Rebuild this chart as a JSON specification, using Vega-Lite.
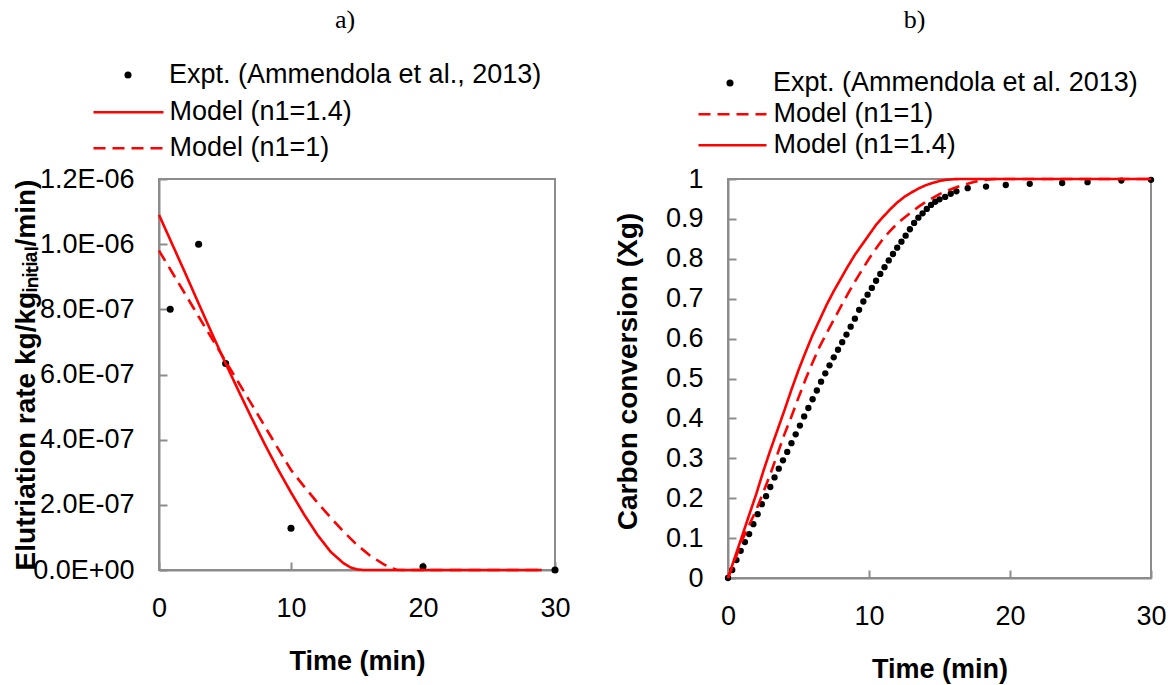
{
  "$schema": "https://vega.github.io/schema/vega-lite/v6.json",
  "padding": {"left": 11, "top": 5, "right": 5, "bottom": 2},
  "spacing": 41,
  "resolve": {"scale": {"shape": "independent", "strokeDash": "independent"}, "legend": {"shape": "independent", "strokeDash": "independent"}},
  "config": {
    "font": "Liberation Sans",
    "view": {"stroke": "#8c8c8c", "strokeWidth": 2},
    "axis": {
      "grid": false,
      "labelFont": "Liberation Sans",
      "labelFontSize": 27,
      "labelColor": "black",
      "titleFont": "Liberation Sans",
      "titleFontSize": 27,
      "titleFontWeight": "bold",
      "titleColor": "black",
      "domainColor": "#8c8c8c",
      "domainWidth": 2,
      "tickColor": "#8c8c8c",
      "tickWidth": 2,
      "tickSize": -8,
      "labelPadding": 33,
      "labelOverlap": false,
      "labelSeparation": 0,
      "labelBound": false,
      "labelFlush": false
    },
    "axisY": {"titleFontSize": 28},
    "legend": {
      "labelFont": "Liberation Sans",
      "labelFontSize": 27,
      "labelColor": "black",
      "labelLimit": 1000,
      "padding": 0,
      "offset": 0,
      "title": null
    },
    "title": {"font": "Liberation Serif", "fontSize": 26, "fontWeight": "normal", "color": "black"}
  },
  "hconcat": [
    {
      "title": {"text": "a)", "anchor": "middle", "dx": -12, "offset": 29},
      "width": 396,
      "height": 391,
      "layer": [
        {
          "data": {"values": [
            {"t": 0.85, "v": 8.0e-7},
            {"t": 3, "v": 1.0e-6},
            {"t": 5.05, "v": 6.34e-7},
            {"t": 10, "v": 1.28e-7},
            {"t": 20, "v": 1.0e-8},
            {"t": 30, "v": 0}
          ]},
          "mark": {"type": "point", "filled": true, "size": 50, "color": "black", "opacity": 1},
          "encoding": {
            "x": {"field": "t", "type": "quantitative", "scale": {"domain": [0, 30]},
                  "axis": {"values": [0, 10, 20, 30], "tickCount": 20, "title": "Time (min)", "titlePadding": 27}},
            "y": {"field": "v", "type": "quantitative", "scale": {"domain": [0, 1.2e-6]},
                  "axis": {"values": [0, 2e-7, 4e-7, 6e-7, 8e-7, 1e-6, 1.2e-6], "tickCount": 20, "labelOverlap": false,
                           "labelExpr": "replace(replace(format(datum.value, '.1e'), 'e-', 'E-0'), 'e+', 'E+0')",
                           "title": "Elutriation rate kg/kgᵢₙᵢₜᵢₐₗ/min)", "titlePadding": -8}},
            "shape": {"datum": "Expt. (Ammendola et al., 2013)", "scale": {"range": ["circle"]},
                      "legend": {"orient": "none", "legendX": -44.5, "legendY": -117.5, "symbolSize": 50,
                                 "symbolFillColor": "black", "symbolStrokeColor": "black", "symbolStrokeWidth": 0, "labelOffset": 27.5}}
          }
        },
        {
          "data": {"values": [
            {"t": 0, "v": 1.09e-6}, {"t": 1, "v": 1.0e-6}, {"t": 2, "v": 9.1e-7}, {"t": 3, "v": 8.18e-7},
            {"t": 4, "v": 7.27e-7}, {"t": 5, "v": 6.38e-7}, {"t": 6, "v": 5.52e-7}, {"t": 7, "v": 4.68e-7},
            {"t": 8, "v": 3.87e-7}, {"t": 9, "v": 3.1e-7}, {"t": 10, "v": 2.38e-7}, {"t": 11, "v": 1.7e-7},
            {"t": 12, "v": 1.08e-7}, {"t": 13, "v": 5.6e-8}, {"t": 14, "v": 2.0e-8}, {"t": 14.5, "v": 8e-9},
            {"t": 15, "v": 2e-9}, {"t": 15.5, "v": 0}, {"t": 29, "v": 0}
          ]},
          "mark": {"type": "line", "color": "red", "strokeWidth": 2.6},
          "encoding": {
            "x": {"field": "t", "type": "quantitative"},
            "y": {"field": "v", "type": "quantitative"},
            "strokeDash": {"datum": "Model (n1=1.4)", "scale": {"range": [[1, 0]]},
                           "legend": {"orient": "none", "legendX": -67, "legendY": -103.3, "symbolSize": 4900,
                                      "symbolType": "stroke", "symbolStrokeColor": "red", "symbolStrokeWidth": 2.6, "labelOffset": 4.4}}
          }
        },
        {
          "data": {"values": [
            {"t": 0, "v": 9.8e-7}, {"t": 1, "v": 9.13e-7}, {"t": 2, "v": 8.46e-7}, {"t": 3, "v": 7.78e-7},
            {"t": 4, "v": 7.11e-7}, {"t": 5, "v": 6.44e-7}, {"t": 6, "v": 5.77e-7}, {"t": 7, "v": 5.1e-7},
            {"t": 8, "v": 4.42e-7}, {"t": 9, "v": 3.74e-7}, {"t": 10, "v": 3.07e-7}, {"t": 11, "v": 2.56e-7},
            {"t": 12, "v": 2.07e-7}, {"t": 13, "v": 1.61e-7}, {"t": 14, "v": 1.17e-7}, {"t": 15, "v": 7.7e-8},
            {"t": 16, "v": 4.4e-8}, {"t": 17, "v": 1.8e-8}, {"t": 17.5, "v": 8e-9}, {"t": 18, "v": 1e-9},
            {"t": 18.5, "v": 0}, {"t": 29, "v": 0}
          ]},
          "mark": {"type": "line", "color": "red", "strokeWidth": 2.6},
          "encoding": {
            "x": {"field": "t", "type": "quantitative"},
            "y": {"field": "v", "type": "quantitative"},
            "strokeDash": {"datum": "Model (n1=1)", "scale": {"range": [[12, 7]]},
                           "legend": {"orient": "none", "legendX": -67, "legendY": -67.3, "symbolSize": 4900,
                                      "symbolType": "stroke", "symbolStrokeColor": "red", "symbolStrokeWidth": 2.6, "labelOffset": 4.4}}
          }
        }
      ],
      "resolve": {"scale": {"strokeDash": "independent"}, "legend": {"strokeDash": "independent"}}
    },
    {
      "title": {"text": "b)", "anchor": "middle", "dx": -25, "offset": 37},
      "width": 423,
      "height": 399,
      "layer": [
        {
          "data": {"values": [
            {"t": 0, "v": 0}, {"t": 0.3, "v": 0.02}, {"t": 0.6, "v": 0.045}, {"t": 0.9, "v": 0.068},
            {"t": 1.2, "v": 0.09}, {"t": 1.5, "v": 0.11}, {"t": 1.8, "v": 0.135}, {"t": 2.1, "v": 0.16},
            {"t": 2.4, "v": 0.185}, {"t": 2.7, "v": 0.205}, {"t": 3.0, "v": 0.228}, {"t": 3.3, "v": 0.252},
            {"t": 3.6, "v": 0.274}, {"t": 3.9, "v": 0.295}, {"t": 4.2, "v": 0.316}, {"t": 4.5, "v": 0.338},
            {"t": 4.8, "v": 0.36}, {"t": 5.1, "v": 0.382}, {"t": 5.4, "v": 0.405}, {"t": 5.7, "v": 0.426},
            {"t": 6.0, "v": 0.448}, {"t": 6.3, "v": 0.47}, {"t": 6.6, "v": 0.492}, {"t": 6.9, "v": 0.513},
            {"t": 7.2, "v": 0.533}, {"t": 7.5, "v": 0.553}, {"t": 7.8, "v": 0.572}, {"t": 8.1, "v": 0.591},
            {"t": 8.4, "v": 0.61}, {"t": 8.7, "v": 0.63}, {"t": 9.0, "v": 0.65}, {"t": 9.3, "v": 0.672},
            {"t": 9.6, "v": 0.693}, {"t": 9.9, "v": 0.71}, {"t": 10.2, "v": 0.727}, {"t": 10.5, "v": 0.745},
            {"t": 10.8, "v": 0.762}, {"t": 11.1, "v": 0.779}, {"t": 11.4, "v": 0.796}, {"t": 11.7, "v": 0.812},
            {"t": 12.0, "v": 0.828}, {"t": 12.3, "v": 0.843}, {"t": 12.6, "v": 0.858}, {"t": 12.9, "v": 0.874},
            {"t": 13.2, "v": 0.89}, {"t": 13.5, "v": 0.903}, {"t": 13.8, "v": 0.914}, {"t": 14.1, "v": 0.925},
            {"t": 14.4, "v": 0.935}, {"t": 14.7, "v": 0.943}, {"t": 15.0, "v": 0.949}, {"t": 15.4, "v": 0.955},
            {"t": 15.8, "v": 0.963}, {"t": 16.2, "v": 0.969}, {"t": 17.0, "v": 0.977}, {"t": 18.3, "v": 0.981},
            {"t": 19.7, "v": 0.985}, {"t": 21.4, "v": 0.988}, {"t": 23.7, "v": 0.99}, {"t": 25.5, "v": 0.992},
            {"t": 27.9, "v": 0.996}, {"t": 30, "v": 0.998}
          ]},
          "mark": {"type": "point", "filled": true, "size": 40, "color": "black", "opacity": 1},
          "encoding": {
            "x": {"field": "t", "type": "quantitative", "scale": {"domain": [0, 30]},
                  "axis": {"values": [0, 10, 20, 30], "tickCount": 20, "title": "Time (min)", "titlePadding": 27}},
            "y": {"field": "v", "type": "quantitative", "scale": {"domain": [0, 1]},
                  "axis": {"values": [0, 0.1, 0.2, 0.3, 0.4, 0.5, 0.6, 0.7, 0.8, 0.9, 1], "tickCount": 20, "format": "~g",
                           "labelOverlap": false, "labelSeparation": 0,
                           "title": "Carbon conversion (Xg)", "titlePadding": 23, "titleY": 192}},
            "shape": {"datum": "Expt. (Ammendola et al. 2013)", "scale": {"range": ["circle"]},
                      "legend": {"orient": "none", "legendX": -11.5, "legendY": -109.5, "symbolSize": 50,
                                 "symbolFillColor": "black", "symbolStrokeColor": "black", "symbolStrokeWidth": 0, "labelOffset": 29.5}}
          }
        },
        {
          "data": {"values": [
            {"t": 0, "v": 0}, {"t": 0.5, "v": 0.047}, {"t": 1, "v": 0.095}, {"t": 1.5, "v": 0.133},
            {"t": 2, "v": 0.17}, {"t": 2.5, "v": 0.215}, {"t": 3, "v": 0.26}, {"t": 3.5, "v": 0.31},
            {"t": 4, "v": 0.36}, {"t": 4.5, "v": 0.405}, {"t": 5, "v": 0.452}, {"t": 5.5, "v": 0.498},
            {"t": 6, "v": 0.54}, {"t": 6.5, "v": 0.58}, {"t": 7, "v": 0.614}, {"t": 7.5, "v": 0.647},
            {"t": 8, "v": 0.68}, {"t": 8.5, "v": 0.712}, {"t": 9, "v": 0.743}, {"t": 9.5, "v": 0.772},
            {"t": 10, "v": 0.8}, {"t": 10.5, "v": 0.826}, {"t": 11, "v": 0.85}, {"t": 11.5, "v": 0.87},
            {"t": 12, "v": 0.888}, {"t": 12.5, "v": 0.903}, {"t": 13, "v": 0.917}, {"t": 13.5, "v": 0.93},
            {"t": 14, "v": 0.942}, {"t": 14.5, "v": 0.952}, {"t": 15, "v": 0.962}, {"t": 15.5, "v": 0.97},
            {"t": 16, "v": 0.977}, {"t": 16.5, "v": 0.983}, {"t": 17, "v": 0.988}, {"t": 17.5, "v": 0.993},
            {"t": 18, "v": 0.997}, {"t": 18.5, "v": 0.999}, {"t": 19, "v": 1.0}, {"t": 30, "v": 1.0}
          ]},
          "mark": {"type": "line", "color": "red", "strokeWidth": 2.6},
          "encoding": {
            "x": {"field": "t", "type": "quantitative"},
            "y": {"field": "v", "type": "quantitative"},
            "strokeDash": {"datum": "Model (n1=1)", "scale": {"range": [[12, 7]]},
                           "legend": {"orient": "none", "legendX": -31, "legendY": -100.3, "symbolSize": 4624,
                                      "symbolType": "stroke", "symbolStrokeColor": "red", "symbolStrokeWidth": 2.6, "labelOffset": 5.4}}
          }
        },
        {
          "data": {"values": [
            {"t": 0, "v": 0}, {"t": 0.5, "v": 0.053}, {"t": 1, "v": 0.105}, {"t": 1.5, "v": 0.158},
            {"t": 2, "v": 0.21}, {"t": 2.5, "v": 0.267}, {"t": 3, "v": 0.32}, {"t": 3.5, "v": 0.37},
            {"t": 4, "v": 0.42}, {"t": 4.5, "v": 0.472}, {"t": 5, "v": 0.521}, {"t": 5.5, "v": 0.566},
            {"t": 6, "v": 0.609}, {"t": 6.5, "v": 0.647}, {"t": 7, "v": 0.685}, {"t": 7.5, "v": 0.719},
            {"t": 8, "v": 0.75}, {"t": 8.5, "v": 0.781}, {"t": 9, "v": 0.81}, {"t": 9.5, "v": 0.835},
            {"t": 10, "v": 0.86}, {"t": 10.5, "v": 0.885}, {"t": 11, "v": 0.905}, {"t": 11.5, "v": 0.924},
            {"t": 12, "v": 0.941}, {"t": 12.5, "v": 0.955}, {"t": 13, "v": 0.966}, {"t": 13.5, "v": 0.976},
            {"t": 14, "v": 0.984}, {"t": 14.5, "v": 0.99}, {"t": 15, "v": 0.995}, {"t": 15.5, "v": 0.998},
            {"t": 16, "v": 0.9995}, {"t": 16.5, "v": 1.0}, {"t": 30, "v": 1.0}
          ]},
          "mark": {"type": "line", "color": "red", "strokeWidth": 2.6},
          "encoding": {
            "x": {"field": "t", "type": "quantitative"},
            "y": {"field": "v", "type": "quantitative"},
            "strokeDash": {"datum": "Model (n1=1.4)", "scale": {"range": [[1, 0]]},
                           "legend": {"orient": "none", "legendX": -31, "legendY": -69.3, "symbolSize": 4624,
                                      "symbolType": "stroke", "symbolStrokeColor": "red", "symbolStrokeWidth": 2.6, "labelOffset": 5.4}}
          }
        }
      ],
      "resolve": {"scale": {"strokeDash": "independent"}, "legend": {"strokeDash": "independent"}}
    }
  ]
}
